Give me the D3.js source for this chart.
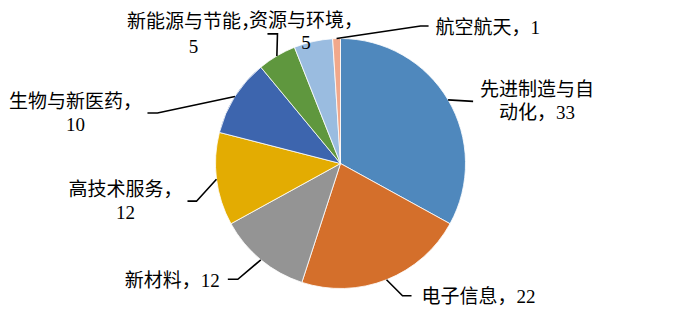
<!DOCTYPE html>
<html><head><meta charset="utf-8">
<script src="https://cdn.jsdelivr.net/npm/d3@7"></script>
<style>
html,body{margin:0;padding:0;background:#fff;}
svg{display:block;}
text{font-family:"Liberation Serif","Noto Sans CJK SC",serif;font-size:19px;fill:#000;}
</style></head>
<body><svg id="c" width="682" height="328"></svg>
<script>
const categories = ["先进制造与自动化","电子信息","新材料","高技术服务","生物与新医药","新能源与节能","资源与环境","航空航天"];
const values = [33,22,12,12,10,5,5,1];
const colors = ["#4F88BD","#D46F2B","#949494","#E3AC02","#3D65AE","#5F973E","#9ABCE0","#F1A88B"];
// label text lines (category split as in the picture)
const labelLines = [
  ["先进制造与自","动化，33"],
  ["电子信息，22"],
  ["新材料，12"],
  ["高技术服务，","12"],
  ["生物与新医药，","10"],
  ["新能源与节能，","5"],
  ["资源与环境，","5"],
  ["航空航天，1"]
];
// layout: leader offsets relative to slice edge point, text anchor relative to leader end
const layout = [
  {leader:[[25,1.5]], anchor:"middle", tx:64, ty:-11.5, lh:23},
  {leader:[[16,16],[25,16]], anchor:"start", tx:10, ty:1, lh:23},
  {leader:[[-23,19.5],[-33,19.5]], anchor:"end", tx:-8, ty:1, lh:23},
  {leader:[[-20,22],[-29,22]], anchor:"middle", tx:-62, ty:-11.5, lh:23},
  {leader:[[-77.5,16.5],[-87.5,16.5]], anchor:"middle", tx:-72, ty:-11.5, lh:23},
  {leader:[[0.6,-22],[-9.4,-22]], anchor:"middle", tx:-74, ty:-12, lh:25},
  {leader:null, anchor:"middle", abs:true, tx:306, ty:20, lh:22},
  {leader:[[84,-12.5],[92,-12.5]], anchor:"start", tx:7, ty:1, lh:23}
];

const svg = d3.select("#c");
const cx = 340.5, cy = 163.5, R = 125;
const g = svg.append("g").attr("transform", `translate(${cx},${cy})`);
const pie = d3.pie().sort(null).value(d => d)(values);
const arc = d3.arc().innerRadius(0).outerRadius(R);
const edge = d3.arc().innerRadius(R).outerRadius(R);

g.selectAll("path.slice").data(pie).join("path")
  .attr("class","slice")
  .attr("d", arc)
  .attr("fill", (d,i) => colors[i])
  .attr("stroke", "#fff")
  .attr("stroke-width", 0.8);

pie.forEach((d,i) => {
  const [px, py] = edge.centroid(d);
  const L = layout[i];
  let ex = px, ey = py;
  if (L.leader) {
    const pts = [[px,py]].concat(L.leader.map(o => [px+o[0], py+o[1]]));
    g.append("path")
      .attr("d", d3.line()(pts))
      .attr("fill","none").attr("stroke","#000").attr("stroke-width",1.6);
    [ex, ey] = pts[pts.length-1];
  }
  let x0, y0;
  if (L.abs) { x0 = L.tx - cx; y0 = L.ty - cy; }
  else { x0 = ex + L.tx; y0 = ey + L.ty; }
  const t = g.append("text").attr("text-anchor", L.anchor);
  labelLines[i].forEach((s, k) => {
    t.append("tspan").attr("x", x0).attr("y", y0 + k*L.lh)
      .attr("dominant-baseline","central").text(s);
  });
});
</script></body></html>
